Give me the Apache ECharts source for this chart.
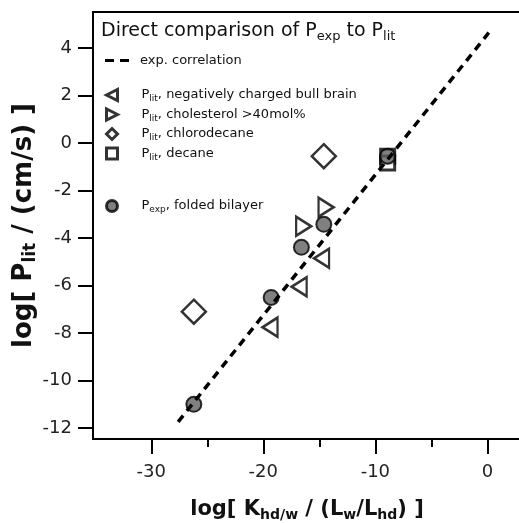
<!DOCTYPE html>
<html>
<head>
<meta charset="utf-8">
<script src="https://cdn.jsdelivr.net/npm/echarts@6/dist/echarts.min.js"></script>
<style>
  html, body { margin: 0; padding: 0; background: #fff; }
  #chart { width: 519px; height: 523px; }
</style>
</head>
<body>
<div id="chart"></div>
<script>
var fitX = [-27.6, 0.4]
var fitY = [-11.74, 4.81]
var bullX = [-19.4, -16.8, -14.8]
var bullY = [-7.75, -6.05, -4.85]
var cholX = [-16.4, -14.4]
var cholY = [-3.5, -2.7]
var chloroX = [-26.2, -14.6]
var chloroY = [-7.1, -0.55]
var decaneX = [-8.9, -8.9]
var decaneY = [-0.55, -0.84]
var expX = [-26.2, -19.3, -16.6, -14.6, -8.9]
var expY = [-11.0, -6.5, -4.39, -3.42, -0.55]
var xMajor = [-30, -20, -10, 0]
var xMinor = [-25, -15, -5]
var yTicks = [-12, -10, -8, -6, -4, -2, 0, 2, 4]

var font = 'DejaVu Sans'

function pairs (xs, ys) {
  var out = []
  for (var i = 0; i < xs.length; i++) {
    out.push([xs[i], ys[i]])
  }
  return out
}

var legendNames = {
  'exp. correlation': '{n|exp. correlation}',
  'bull': '{n|P}{s|lit}{n|, negatively charged bull brain}',
  'chol': '{n|P}{s|lit}{n|, cholesterol >40mol%}',
  'chloro': '{n|P}{s|lit}{n|, chlorodecane}',
  'decane': '{n|P}{s|lit}{n|, decane}',
  'exp': '{n|P}{s|exp}{n|, folded bilayer}'
}
var legendRich = {
  n: {fontSize: 13, lineHeight: 17, color: '#111', fontFamily: font},
  s: {fontSize: 9, lineHeight: 10, verticalAlign: 'bottom', color: '#111', fontFamily: font}
}
var iconStyle = {color: '#fff', borderColor: '#000', borderWidth: 3}
var legendIcons = {
  'exp. correlation': {icon: 'path://M0,0 H9 V3 H0 Z M15,0 H24 V3 H15 Z', itemStyle: {color: '#000', borderWidth: 0}},
  'bull': {icon: 'path://M0,5 L10,0 L10,10 Z', itemStyle: iconStyle},
  'chol': {icon: 'path://M10,5 L0,0 L0,10 Z', itemStyle: iconStyle},
  'chloro': {icon: 'diamond', itemStyle: iconStyle},
  'decane': {icon: 'rect', itemStyle: iconStyle},
  'exp': {icon: 'circle', itemStyle: {color: '#606060', borderColor: '#000', borderWidth: 3}}
}
function legendBox (names, top, gap, w, h, textPad) {
  var data = names.map(function (n) {
    return Object.assign({name: n}, legendIcons[n])
  })
  return {
    data: data,
    orient: 'vertical',
    left: 105,
    top: top,
    itemGap: gap,
    itemWidth: w,
    itemHeight: h,
    padding: 0,
    formatter: function (name) { return legendNames[name] },
    textStyle: {rich: legendRich, padding: [0, 0, 0, textPad]}
  }
}

function nameRich (size, subSize) {
  return {
    b: {fontSize: size, fontWeight: 'bold', lineHeight: size + 4, color: '#111', fontFamily: font},
    bs: {fontSize: subSize, fontWeight: 'bold', lineHeight: subSize, verticalAlign: 'bottom', color: '#111', fontFamily: font}
  }
}

var myChart = echarts.init(document.getElementById('chart'))
var symbolBorder = {color: '#fff', borderColor: '#000', borderWidth: 2.5}
myChart.setOption({
  animation: false,
  backgroundColor: '#fff',
  title: {
    text: '{n|Direct comparison of P}{s|exp}{n| to P}{s|lit}',
    left: 101,
    top: 20,
    padding: 0,
    textStyle: {
      fontWeight: 'normal',
      rich: {
        n: {fontSize: 19, fontWeight: 'normal', lineHeight: 23, color: '#111', fontFamily: font},
        s: {fontSize: 13, fontWeight: 'normal', lineHeight: 13, verticalAlign: 'bottom', color: '#111', fontFamily: font}
      }
    }
  },
  legend: [
    legendBox(['exp. correlation'], 54, 0, 24, 3, 6),
    legendBox(['bull', 'chol', 'chloro', 'decane'], 88, 4, 11, 11, 19),
    legendBox(['exp'], 199, 0, 11, 11, 19)
  ],
  grid: {
    left: 93,
    top: 12,
    right: -2,
    bottom: 84,
    outerBoundsMode: 'none',
    containLabel: false,
    show: true,
    borderColor: '#000',
    borderWidth: 2
  },
  xAxis: [{
    type: 'value',
    min: -35.2,
    max: 3,
    splitLine: {show: false},
    axisLine: {onZero: false, lineStyle: {color: '#000', width: 2}},
    axisTick: {customValues: xMajor, length: 15, lineStyle: {color: '#000', width: 2}},
    axisLabel: {customValues: xMajor, margin: 24, fontSize: 18, color: '#222', fontFamily: font},
    name: '{b|log[ K}{bs|hd/w}{b| / (L}{bs|w}{b|/L}{bs|hd}{b|) ]}',
    nameLocation: 'middle',
    nameGap: 58,
    nameTextStyle: {rich: nameRich(21, 14)}
  }, {
    type: 'value',
    position: 'bottom',
    min: -35.2,
    max: 3,
    splitLine: {show: false},
    axisLine: {show: false, onZero: false},
    axisTick: {customValues: xMinor, length: 8, lineStyle: {color: '#000', width: 2}},
    axisLabel: {show: false}
  }],
  yAxis: {
    type: 'value',
    min: -12.46,
    max: 5.52,
    splitLine: {show: false},
    axisLine: {onZero: false, lineStyle: {color: '#000', width: 2}},
    axisTick: {customValues: yTicks, length: 15, lineStyle: {color: '#000', width: 2}},
    axisLabel: {customValues: yTicks, margin: 21, fontSize: 18, color: '#222', fontFamily: font},
    name: '{b|log[ P}{bs|lit}{b| / (cm/s) ]}',
    nameLocation: 'middle',
    nameMoveOverlap: false,
    nameGap: 54,
    nameTextStyle: {rich: nameRich(26, 17)}
  },
  series: [{
    name: 'exp. correlation',
    type: 'line',
    symbol: 'none',
    data: pairs(fitX, fitY),
    lineStyle: {color: '#000', width: 3.5, type: [8, 6]},
    itemStyle: {color: '#000'}
  }, {
    name: 'bull',
    type: 'scatter',
    symbol: 'triangle',
    symbolSize: [19, 15],
    symbolRotate: 90,
    data: pairs(bullX, bullY),
    itemStyle: symbolBorder
  }, {
    name: 'chol',
    type: 'scatter',
    symbol: 'triangle',
    symbolSize: [19, 15],
    symbolRotate: -90,
    data: pairs(cholX, cholY),
    itemStyle: symbolBorder
  }, {
    name: 'chloro',
    type: 'scatter',
    symbol: 'diamond',
    symbolSize: 24,
    data: pairs(chloroX, chloroY),
    itemStyle: symbolBorder
  }, {
    name: 'decane',
    type: 'scatter',
    symbol: 'rect',
    symbolSize: 14,
    data: pairs(decaneX, decaneY),
    itemStyle: {color: '#fff', borderColor: '#000', borderWidth: 3}
  }, {
    name: 'exp',
    type: 'scatter',
    symbol: 'circle',
    symbolSize: 15,
    data: pairs(expX, expY),
    itemStyle: {color: '#606060', borderColor: '#000', borderWidth: 2}
  }]
})
</script>
</body>
</html>
